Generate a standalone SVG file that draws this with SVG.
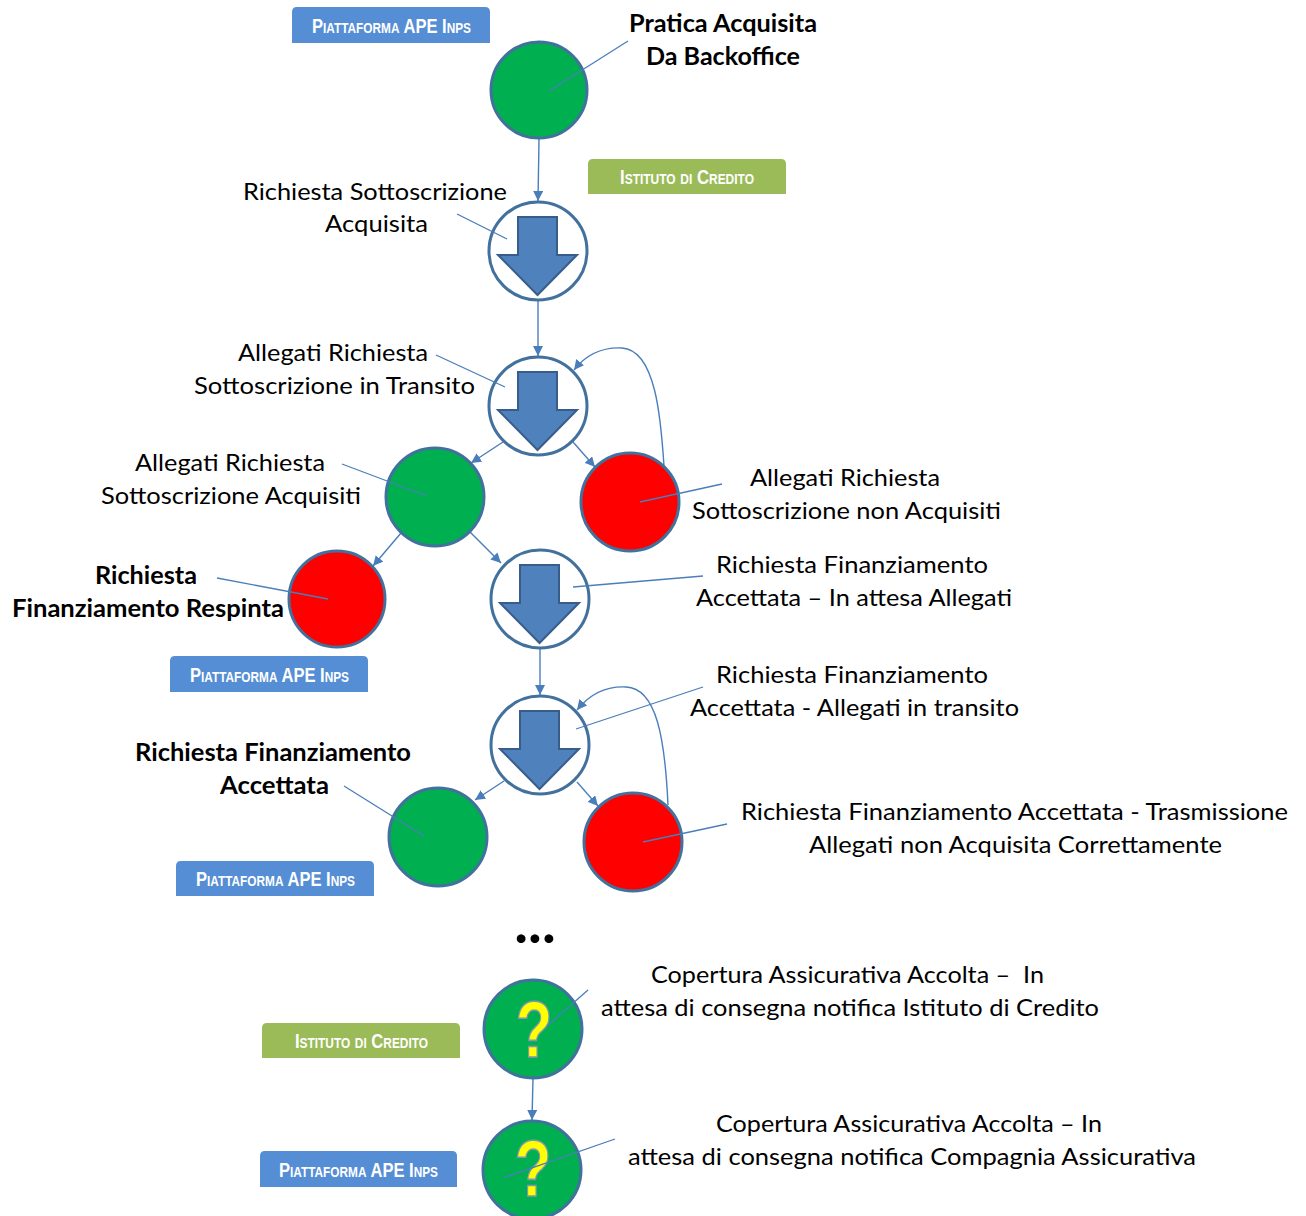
<svg xmlns="http://www.w3.org/2000/svg" width="1306" height="1216" viewBox="0 0 1306 1216">
<style>
.lbl{font-family:Lato,"Open Sans",sans-serif;font-size:24px;fill:#000}
.b{font-weight:bold}
.tag{font-family:"Liberation Sans",Arial,sans-serif;font-size:21px;font-variant:small-caps;fill:#fff;font-weight:bold}
.blue{fill:#558ED5}
.green{fill:#9BBB59}
.st{stroke:#41719C;stroke-width:3}
.g{fill:#00B050}
.r{fill:#FF0000}
.w{fill:#fff}
.arr{fill:#4F81BD;stroke:#385D8A;stroke-width:2}
.con{fill:none;stroke:#4A7EBB;stroke-width:1.4}
.lead{fill:none;stroke:#4A7EBB;stroke-width:1.3}
.q{font-family:"Liberation Sans",Arial,sans-serif;font-weight:bold;font-size:80px;fill:#FFFF00;stroke:#8497B0;stroke-width:1.5}
</style>
<defs>
<marker id="ah" markerUnits="userSpaceOnUse" markerWidth="10" markerHeight="10" refX="10" refY="5" orient="auto">
<path d="M0,0 L10,5 L0,10 z" fill="#4A7EBB"/>
</marker>
<path id="arrow" d="M-20,-34 H19 V4 H39 L-0.5,44 L-40,4 H-20 Z"/>
</defs>
<rect width="1306" height="1216" fill="#fff"/>

<g id="tags">
<g id="tag1"><path class="blue" d="M292,43 V12 Q292,7 297,7 H485 Q490,7 490,12 V43 Z"/><text class="tag" x="312" y="33" textLength="159" lengthAdjust="spacingAndGlyphs">Piattaforma APE Inps</text></g>
<g id="tag2"><path class="green" d="M588,194 V164 Q588,159 593,159 H781 Q786,159 786,164 V194 Z"/><text class="tag" x="620" y="184" textLength="134" lengthAdjust="spacingAndGlyphs">Istituto di Credito</text></g>
<g id="tag3"><path class="blue" d="M170,692 V661 Q170,656 175,656 H363 Q368,656 368,661 V692 Z"/><text class="tag" x="190" y="682" textLength="159" lengthAdjust="spacingAndGlyphs">Piattaforma APE Inps</text></g>
<g id="tag4"><path class="blue" d="M176,896 V866 Q176,861 181,861 H369 Q374,861 374,866 V896 Z"/><text class="tag" x="196" y="886" textLength="159" lengthAdjust="spacingAndGlyphs">Piattaforma APE Inps</text></g>
<g id="tag5"><path class="green" d="M262,1058 V1028 Q262,1023 267,1023 H455 Q460,1023 460,1028 V1058 Z"/><text class="tag" x="295" y="1048" textLength="133" lengthAdjust="spacingAndGlyphs">Istituto di Credito</text></g>
<g id="tag6"><path class="blue" d="M260,1187 V1156 Q260,1151 265,1151 H452 Q457,1151 457,1156 V1187 Z"/><text class="tag" x="279" y="1177" textLength="159" lengthAdjust="spacingAndGlyphs">Piattaforma APE Inps</text></g>
</g>

<g id="connectors">
<line class="con" x1="539" y1="139" x2="538" y2="201" marker-end="url(#ah)"/>
<line class="con" x1="538" y1="300" x2="538" y2="356" marker-end="url(#ah)"/>
<line class="con" x1="503" y1="442" x2="471" y2="463" marker-end="url(#ah)"/>
<line class="con" x1="573" y1="442" x2="595" y2="467" marker-end="url(#ah)"/>
<path class="con" d="M664,466 C661,420 656,350 622,348 C601,347 585,356 574,370" marker-end="url(#ah)"/>
<line class="con" x1="401" y1="533" x2="373" y2="566" marker-end="url(#ah)"/>
<line class="con" x1="470" y1="532" x2="501" y2="563" marker-end="url(#ah)"/>
<line class="con" x1="540" y1="648" x2="540" y2="695" marker-end="url(#ah)"/>
<line class="con" x1="504" y1="781" x2="475" y2="800" marker-end="url(#ah)"/>
<line class="con" x1="577" y1="782" x2="598" y2="806" marker-end="url(#ah)"/>
<path class="con" d="M668,805 C665,740 657,688 626,687 C606,686 589,695 577,710" marker-end="url(#ah)"/>
<line class="con" x1="533" y1="1078" x2="532" y2="1120" marker-end="url(#ah)"/>
</g>

<g id="n1"><circle class="st g" cx="539" cy="90" r="48"/></g>
<g id="n2"><circle class="st w" cx="538" cy="251" r="49"/><use href="#arrow" class="arr" x="538" y="251"/></g>
<g id="n3"><circle class="st w" cx="538" cy="406" r="49"/><use href="#arrow" class="arr" x="538" y="406"/></g>
<g id="n4"><circle class="st g" cx="435" cy="497" r="49"/></g>
<g id="n5"><circle class="st r" cx="630" cy="502" r="49"/></g>
<g id="n6"><circle class="st r" cx="337" cy="599" r="48"/></g>
<g id="n7"><circle class="st w" cx="540" cy="599" r="49"/><use href="#arrow" class="arr" x="540" y="599"/></g>
<g id="n8"><circle class="st w" cx="540" cy="745" r="49"/><use href="#arrow" class="arr" x="540" y="745"/></g>
<g id="n9"><circle class="st g" cx="438" cy="837" r="49"/></g>
<g id="n10"><circle class="st r" cx="633" cy="842" r="49"/></g>
<g id="n11"><circle class="st g" cx="533" cy="1029" r="49"/><text class="q" text-anchor="middle" transform="translate(534,1057) scale(0.75,1)">?</text></g>
<g id="n12"><circle class="st g" cx="532" cy="1170" r="49"/><text class="q" text-anchor="middle" transform="translate(533,1196) scale(0.75,1)">?</text></g>

<g id="leaders">
<line class="lead" x1="628" y1="41" x2="549" y2="91"/>
<line class="lead" x1="457" y1="214" x2="507" y2="239"/>
<line class="lead" x1="436" y1="355" x2="505" y2="387"/>
<line class="lead" x1="342" y1="464" x2="427" y2="496"/>
<line class="lead" x1="722" y1="484" x2="640" y2="502"/>
<line class="lead" x1="217" y1="578" x2="328" y2="599"/>
<line class="lead" x1="703" y1="576" x2="573" y2="587"/>
<line class="lead" x1="703" y1="687" x2="576" y2="729"/>
<line class="lead" x1="344" y1="786" x2="424" y2="836"/>
<line class="lead" x1="727" y1="824" x2="643" y2="842"/>
<line class="lead" x1="588" y1="990" x2="547" y2="1026"/>
<line class="lead" x1="615" y1="1139" x2="503" y2="1178"/>
</g>

<g id="labels">
<text class="lbl b" x="629" y="32" textLength="188" lengthAdjust="spacingAndGlyphs">Pratica Acquisita</text>
<text class="lbl b" x="646" y="65" textLength="154" lengthAdjust="spacingAndGlyphs">Da Backoffice</text>
<text class="lbl" x="243" y="200" textLength="264" lengthAdjust="spacingAndGlyphs">Richiesta Sottoscrizione</text>
<text class="lbl" x="325" y="232" textLength="103" lengthAdjust="spacingAndGlyphs">Acquisita</text>
<text class="lbl" x="238" y="361" textLength="190" lengthAdjust="spacingAndGlyphs">Allegati Richiesta</text>
<text class="lbl" x="194" y="394" textLength="281" lengthAdjust="spacingAndGlyphs">Sottoscrizione in Transito</text>
<text class="lbl" x="135" y="471" textLength="190" lengthAdjust="spacingAndGlyphs">Allegati Richiesta</text>
<text class="lbl" x="101" y="504" textLength="260" lengthAdjust="spacingAndGlyphs">Sottoscrizione Acquisiti</text>
<text class="lbl" x="750" y="486" textLength="190" lengthAdjust="spacingAndGlyphs">Allegati Richiesta</text>
<text class="lbl" x="692" y="519" textLength="309" lengthAdjust="spacingAndGlyphs">Sottoscrizione non Acquisiti</text>
<text class="lbl b" x="95" y="584" textLength="102" lengthAdjust="spacingAndGlyphs">Richiesta</text>
<text class="lbl b" x="12" y="617" textLength="272" lengthAdjust="spacingAndGlyphs">Finanziamento Respinta</text>
<text class="lbl" x="716" y="573" textLength="272" lengthAdjust="spacingAndGlyphs">Richiesta Finanziamento</text>
<text class="lbl" x="696" y="606" textLength="316" lengthAdjust="spacingAndGlyphs">Accettata – In attesa Allegati</text>
<text class="lbl" x="716" y="683" textLength="272" lengthAdjust="spacingAndGlyphs">Richiesta Finanziamento</text>
<text class="lbl" x="690" y="716" textLength="329" lengthAdjust="spacingAndGlyphs">Accettata - Allegati in transito</text>
<text class="lbl b" x="135" y="761" textLength="276" lengthAdjust="spacingAndGlyphs">Richiesta Finanziamento</text>
<text class="lbl b" x="220" y="794" textLength="109" lengthAdjust="spacingAndGlyphs">Accettata</text>
<text class="lbl" x="741" y="820" textLength="547" lengthAdjust="spacingAndGlyphs">Richiesta Finanziamento Accettata - Trasmissione</text>
<text class="lbl" x="809" y="853" textLength="413" lengthAdjust="spacingAndGlyphs">Allegati non Acquisita Correttamente</text>
<text class="lbl" x="651" y="983" textLength="393" lengthAdjust="spacingAndGlyphs" style="white-space:pre">Copertura Assicurativa Accolta –  In</text>
<text class="lbl" x="601" y="1016" textLength="498" lengthAdjust="spacingAndGlyphs">attesa di consegna notifica Istituto di Credito</text>
<text class="lbl" x="716" y="1132" textLength="386" lengthAdjust="spacingAndGlyphs">Copertura Assicurativa Accolta – In</text>
<text class="lbl" x="628" y="1165" textLength="568" lengthAdjust="spacingAndGlyphs">attesa di consegna notifica Compagnia Assicurativa</text>
<text class="lbl b" x="535" y="943" text-anchor="middle" style="font-size:58px">...</text>
</g>
</svg>
